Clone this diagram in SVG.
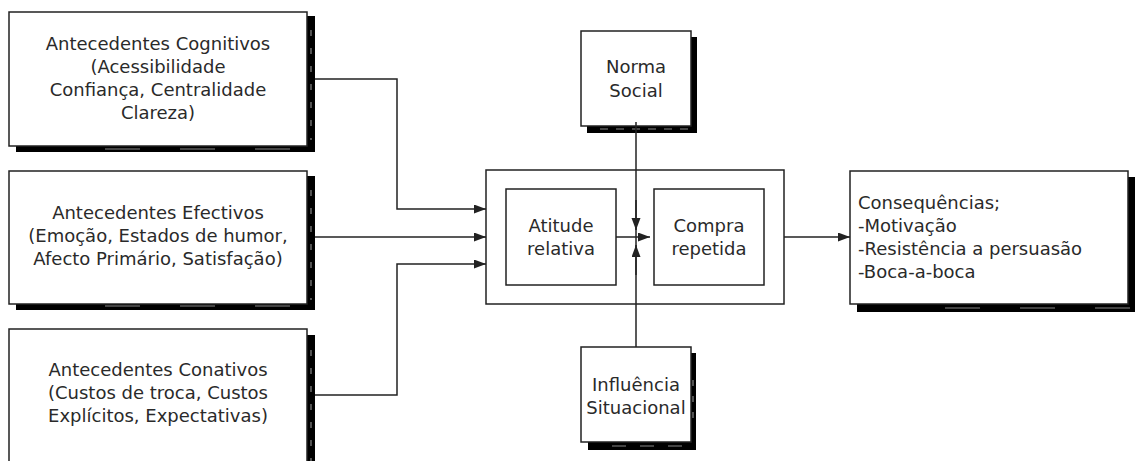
<svg xmlns="http://www.w3.org/2000/svg" width="1142" height="461" viewBox="0 0 1142 461">
<style>
.box{fill:#fff;stroke:#222;stroke-width:1.5}
.frame{fill:none;stroke:#222;stroke-width:1.5}
.sh{fill:#000}
.shd{stroke:#888;stroke-width:1.2;fill:none}
.t{font-family:"DejaVu Sans","Verdana",sans-serif;font-size:18px;fill:#2a2a2a}
.c{text-anchor:middle}
.ln{fill:none;stroke:#222;stroke-width:1.5}
</style>
<defs>
<marker id="ar" markerUnits="userSpaceOnUse" markerWidth="13" markerHeight="10" refX="12" refY="4.5" orient="auto">
<path d="M0,0 L12,4.5 L0,9 z" fill="#222"/>
</marker>
</defs>
<rect width="1142" height="461" fill="#fff"/>

<g id="cognitivos">
<rect class="sh" x="16" y="16" width="299" height="136"/>
<line class="shd" x1="311" y1="30" x2="311" y2="140" stroke-dasharray="6 12"/>
<line class="shd" x1="105" y1="149" x2="300" y2="149" stroke-dasharray="35 40"/>
<rect class="box" x="9" y="12" width="298" height="134"/>
<text class="t c" x="158"><tspan x="158" y="50">Antecedentes Cognitivos</tspan><tspan x="158" y="73">(Acessibilidade</tspan><tspan x="158" y="96">Confiança, Centralidade</tspan><tspan x="158" y="119">Clareza)</tspan></text>
</g>

<g id="efectivos">
<rect class="sh" x="16" y="176" width="299" height="134"/>
<line class="shd" x1="311" y1="190" x2="311" y2="300" stroke-dasharray="6 12"/>
<line class="shd" x1="105" y1="306" x2="300" y2="306" stroke-dasharray="35 40"/>
<rect class="box" x="9" y="171" width="298" height="133"/>
<text class="t c" x="158"><tspan x="158" y="219">Antecedentes Efectivos</tspan><tspan x="158" y="242">(Emoção, Estados de humor,</tspan><tspan x="158" y="265">Afecto Primário, Satisfação)</tspan></text>
</g>

<g id="conativos">
<rect class="sh" x="16" y="335" width="299" height="140"/>
<line class="shd" x1="311" y1="350" x2="311" y2="461" stroke-dasharray="6 12"/>
<rect class="box" x="9" y="329" width="298" height="140"/>
<text class="t c" x="158"><tspan x="158" y="376">Antecedentes Conativos</tspan><tspan x="158" y="399">(Custos de troca, Custos</tspan><tspan x="158" y="422">Explícitos, Expectativas)</tspan></text>
</g>

<g id="norma">
<rect class="sh" x="587" y="37" width="110" height="96"/>
<line class="shd" x1="600" y1="129" x2="690" y2="129" stroke-dasharray="8 8"/>
<rect class="box" x="581" y="31" width="110" height="95"/>
<text class="t c" x="636"><tspan x="636" y="73">Norma</tspan><tspan x="636" y="97">Social</tspan></text>
</g>

<g id="processo">
<rect class="frame" x="486" y="170" width="298" height="134"/>
</g>

<g id="atitude">
<rect class="box" x="506" y="189" width="110" height="96"/>
<text class="t c" x="561"><tspan x="561" y="232">Atitude</tspan><tspan x="561" y="255">relativa</tspan></text>
</g>

<g id="compra">
<rect class="box" x="654" y="189" width="110" height="96"/>
<text class="t c" x="709"><tspan x="709" y="232">Compra</tspan><tspan x="709" y="255">repetida</tspan></text>
</g>

<g id="influencia">
<rect class="sh" x="588" y="353" width="108" height="97"/>
<line class="shd" x1="693" y1="380" x2="693" y2="420" stroke-dasharray="6 10"/>
<line class="shd" x1="612" y1="446" x2="690" y2="446" stroke-dasharray="14 14"/>
<rect class="box" x="581" y="347" width="110" height="95"/>
<text class="t c" x="636"><tspan x="636" y="391">Influência</tspan><tspan x="636" y="414">Situacional</tspan></text>
</g>

<g id="consequencias">
<rect class="sh" x="857" y="177" width="278" height="135"/>
<line class="shd" x1="945" y1="308" x2="1130" y2="308" stroke-dasharray="35 40"/>
<rect class="box" x="850" y="171" width="278" height="133"/>
<text class="t" x="858"><tspan x="858" y="209">Consequências;</tspan><tspan x="858" y="232">-Motivação</tspan><tspan x="858" y="255">-Resistência a persuasão</tspan><tspan x="858" y="278">-Boca-a-boca</tspan></text>
</g>

<g id="connectors">
<polyline class="ln" points="315,79 397,79 397,209 486,209" marker-end="url(#ar)"/>
<line class="ln" x1="315" y1="237" x2="486" y2="237" marker-end="url(#ar)"/>
<polyline class="ln" points="315,395 397,395 397,264 486,264" marker-end="url(#ar)"/>
<line class="ln" x1="616" y1="237" x2="650" y2="237" marker-end="url(#ar)"/>
<line class="ln" x1="784" y1="237" x2="850" y2="237" marker-end="url(#ar)"/>
<line class="ln" x1="636" y1="122" x2="636" y2="347"/>
<line class="ln" x1="636" y1="200" x2="636" y2="230" marker-end="url(#ar)"/>
<line class="ln" x1="636" y1="275" x2="636" y2="245" marker-end="url(#ar)"/>
</g>
</svg>
